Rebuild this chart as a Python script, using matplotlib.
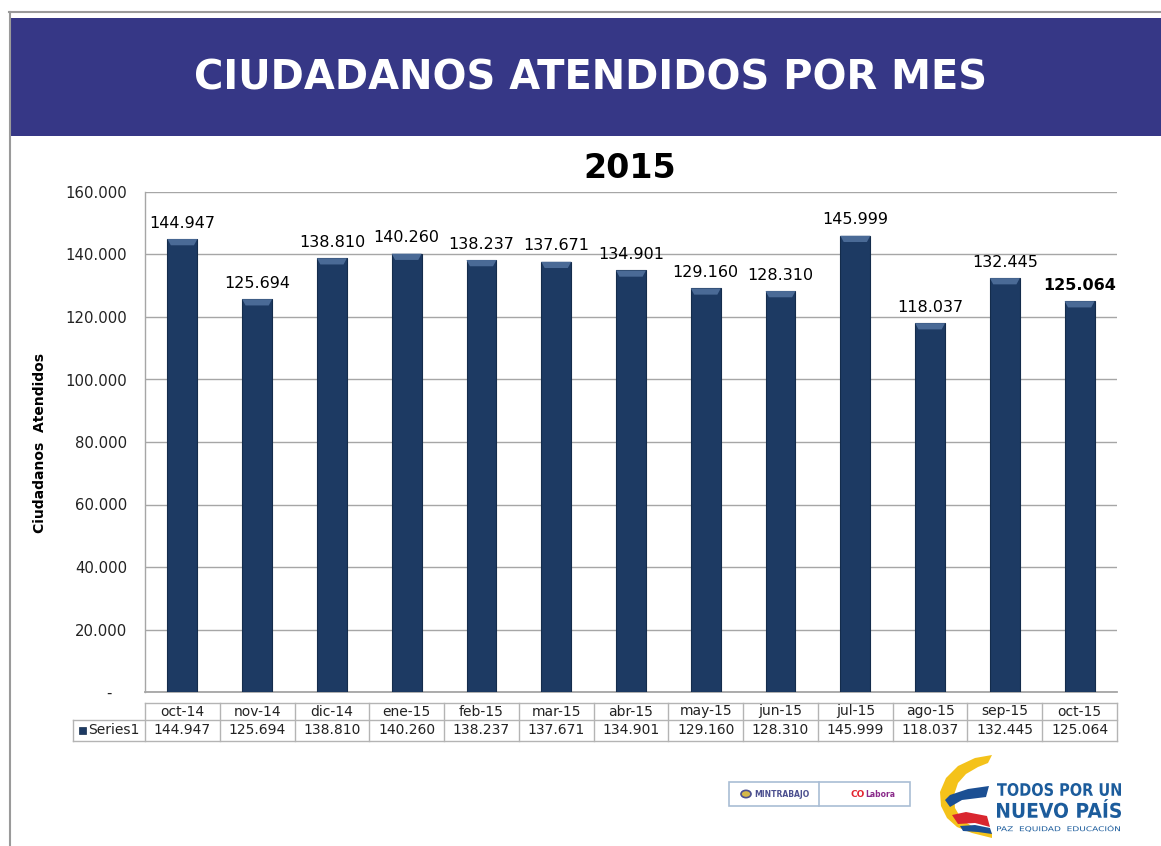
import matplotlib
matplotlib.use("Agg")
from matplotlib import pyplot as plt
from matplotlib.patches import Rectangle, Polygon, Circle, PathPatch
from matplotlib.lines import Line2D
from matplotlib.textpath import TextPath
from matplotlib.font_manager import FontProperties
import matplotlib.transforms as mtrans
import numpy as np

# chart data
meses = ["oct-14", "nov-14", "dic-14", "ene-15", "feb-15", "mar-15", "abr-15",
         "may-15", "jun-15", "jul-15", "ago-15", "sep-15", "oct-15"]
atendidos = [144947, 125694, 138810, 140260, 138237, 137671, 134901,
             129160, 128310, 145999, 118037, 132445, 125064]
y_ticks = [0, 20000, 40000, 60000, 80000, 100000, 120000, 140000, 160000]

W, H = 1161, 846
plt.rcParams['font.family'] = ['DejaVu Sans']

def fx(px):
    return px / W

def fy(py):
    return 1 - py / H

def miles(v):
    # 144947 -> "144.947", 0 -> "-"
    if v == 0:
        return "-   "
    return "{:,}".format(int(v)).replace(",", ".")

def fitted_text(fig, s, x0, x1, y0, y1, color, weight="bold"):
    # squeeze a text path into a pixel box (top-left origin), used for the logo
    tp = TextPath((0, 0), s, size=20, prop=FontProperties(family="DejaVu Sans", weight=weight))
    ext = tp.get_extents()
    sx = (x1 - x0) / ext.width
    sy = (y1 - y0) / ext.height
    t = (mtrans.Affine2D().translate(-ext.x0, -ext.y0).scale(sx, sy)
         .translate(x0, H - y1) + mtrans.IdentityTransform())
    fig.add_artist(PathPatch(tp, transform=t, facecolor=color, edgecolor="none"))

fig = plt.figure(figsize=(W / 100, H / 100), dpi=100)
fig.patch.set_facecolor("white")

# slide frame + header band
fig.add_artist(Line2D([fx(9), 1], [fy(12), fy(12)], color="#9a9a9a", lw=1.5))
fig.add_artist(Line2D([fx(9.5), fx(9.5)], [fy(12), 0], color="#9a9a9a", lw=1.5))
fig.add_artist(Rectangle((fx(10), fy(136)), 1 - fx(10), fy(18) - fy(136),
                         facecolor="#363786", edgecolor="none"))
fig.text(fx(591), fy(78), "CIUDADANOS ATENDIDOS POR MES", color="white",
         fontsize=28.8, fontweight="bold", ha="center", va="center")
fig.text(fx(630), fy(168), "2015", color="black", fontsize=24,
         fontweight="bold", ha="center", va="center")

# main axes
ax = fig.add_axes([fx(145), fy(692), fx(1117) - fx(145), fy(192) - fy(692)])
x = np.arange(len(meses))
bars = ax.bar(x, atendidos, width=0.4, color="#1d3a63", edgecolor="#142c4c",
              linewidth=0.8, zorder=3)
# bevelled top of each bar (trapezoid, lighter)
cap = 2000
inset = 0.045
for b in bars:
    x0, w, h = b.get_x(), b.get_width(), b.get_height()
    ax.add_patch(Polygon([(x0, h), (x0 + w, h), (x0 + w - inset, h - cap),
                          (x0 + inset, h - cap)], closed=True,
                         facecolor="#4a6a96", edgecolor="none", zorder=4))
ax.set_xlim(-0.5, len(meses) - 0.5)
ax.set_ylim(0, 160000)
ax.set_yticks(y_ticks)
ax.set_yticklabels([miles(v) for v in y_ticks], fontsize=10.7, color="#222222")
ax.set_xticks([])
ax.tick_params(axis="y", length=0, pad=13)
ax.grid(axis="y", color="#a6a6a6", lw=1, zorder=0)
for s in ["top", "right"]:
    ax.spines[s].set_visible(False)
ax.spines["left"].set_color("#a6a6a6")
ax.spines["bottom"].set_color("#a6a6a6")
ax.spines["left"].set_linewidth(1)
ax.spines["bottom"].set_linewidth(1.3)

# data labels above the bars, last one in bold
for i, v in enumerate(atendidos):
    ax.annotate(miles(v), (x[i], v), xytext=(0, 6), textcoords="offset points",
                ha="center", va="bottom", fontsize=11.5,
                fontweight="bold" if i == len(atendidos) - 1 else "normal")

fig.text(fx(40), fy(443), "Ciudadanos  Atendidos", rotation=90, fontsize=10,
         fontweight="bold", ha="center", va="center")

# data table below the axis
tr = mtrans.blended_transform_factory(ax.transData, ax.transAxes)
r0, r1, r2 = -11 / 500, -28 / 500, -49 / 500
lab_left = -0.5 - 72 / 74.8
grid_kw = dict(color="#b4b4b4", lw=1, transform=tr, clip_on=False)
ax.add_line(Line2D([-0.5, len(meses) - 0.5], [r0, r0], **grid_kw))
for yy in [r1, r2]:
    ax.add_line(Line2D([lab_left, len(meses) - 0.5], [yy, yy], **grid_kw))
for xx in np.arange(-0.5, len(meses), 1.0):
    ax.add_line(Line2D([xx, xx], [r0, r2], **grid_kw))
ax.add_line(Line2D([lab_left, lab_left], [r1, r2], **grid_kw))
for i, m in enumerate(meses):
    ax.text(x[i], (r0 + r1) / 2, m, transform=tr, ha="center", va="center",
            fontsize=10, color="#222222")
    ax.text(x[i], (r1 + r2) / 2, miles(atendidos[i]), transform=tr,
            ha="center", va="center", fontsize=10, color="#222222")
ax.add_patch(Rectangle((lab_left + 0.08, (r1 + r2) / 2 - 0.007), 0.09, 0.014,
                       transform=tr, clip_on=False, facecolor="#1d3a63",
                       edgecolor="#142c4c", lw=0.5))
ax.text(lab_left + 0.2, (r1 + r2) / 2, "Series1", transform=tr, ha="left",
        va="center", fontsize=10, color="#222222")

# footer logos
fig.add_artist(Rectangle((fx(729), fy(806)), fx(910) - fx(729), fy(782) - fy(806),
                         facecolor="white", edgecolor="#a9bdd4", lw=1.2))
fig.add_artist(Line2D([fx(819), fx(819)], [fy(806), fy(782)], color="#a9bdd4", lw=1.2))
fig.add_artist(Circle((fx(746), fy(794)), 5 / W, facecolor="#d4b84a",
                      edgecolor="#4b4f8f", lw=1.2))
fig.text(fx(754), fy(794), "MINTRABAJO", fontsize=5.5, fontweight="bold",
         color="#4b4f8f", ha="left", va="center")
fig.text(fx(865), fy(794), "CO", fontsize=6.5, fontweight="bold",
         color="#e3232f", ha="right", va="center")
fig.text(fx(865), fy(794), "Labora", fontsize=5.5, fontweight="bold",
         color="#8a2a8a", ha="left", va="center")

yellow = [(992, 755), (975, 758), (958, 766), (946, 778), (940, 792), (941, 806),
          (947, 818), (957, 827), (972, 833), (992, 838), (992, 833), (975, 828),
          (962, 820), (955, 808), (954, 795), (958, 783), (966, 774), (978, 767),
          (988, 763)]
blue = [(989, 786), (968, 789), (950, 795), (945, 800), (950, 807), (962, 800),
        (986, 797)]
red = [(987, 816), (966, 812), (952, 815), (958, 824), (975, 823), (990, 827)]
blue2 = [(990, 828), (975, 825), (960, 826), (963, 831), (978, 832), (992, 834)]
for pts, col in [(yellow, "#f4c21a"), (blue, "#1b4f93"), (red, "#d9262f"),
                 (blue2, "#1b4f93")]:
    fig.add_artist(Polygon([(fx(a), fy(b)) for a, b in pts], closed=True,
                           facecolor=col, edgecolor="none"))
fitted_text(fig, "TODOS POR UN", 997, 1121, 783, 796, "#1c5c9c")
fitted_text(fig, "NUEVO PAÍS", 997, 1121, 799, 818, "#1c5c9c")
fitted_text(fig, "PAZ  EQUIDAD  EDUCACIÓN", 997, 1120, 825, 832, "#1c5c9c",
            weight="normal")

fig.savefig("out.png", dpi=100)
